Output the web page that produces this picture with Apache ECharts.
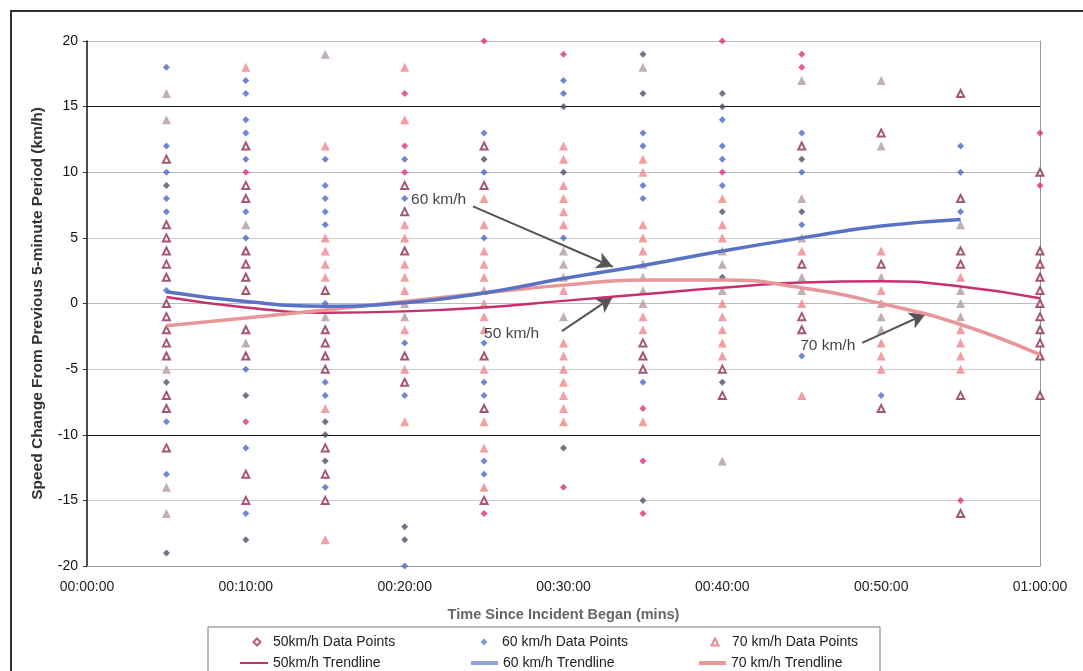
<!DOCTYPE html>
<html>
<head>
<meta charset="utf-8">
<script src="https://cdn.jsdelivr.net/npm/echarts@6/dist/echarts.min.js"></script>
<style>
html,body{margin:0;padding:0;background:#fff;}
#chart{width:1083px;height:671px;}
</style>
</head>
<body>
<div id="chart"></div>
<script>
// ---- Data (minutes since incident, speed change km/h) ----
const xTickLabels = ['00:00:00','00:10:00','00:20:00','00:30:00','00:40:00','00:50:00','01:00:00'];

// 50 km/h data points (diamonds)
const pts50 = [[10,10],[10,-9],[20,16],[20,12],[20,10],[25,20],[25,-16],[30,19],[30,-14],
  [35,-8],[35,-12],[35,-16],[40,20],[40,10],[45,19],[45,18],[55,-15],[60,13],[60,9]];

// 60 km/h data points (blue diamonds)
const pts60 = [[5,18],[5,12],[5,10],[5,8],[5,7],[5,1],[5,-9],[5,-13],
  [10,17],[10,16],[10,14],[10,13],[10,11],[10,7],[10,5],[10,-5],[10,-11],[10,-16],
  [15,11],[15,9],[15,8],[15,7],[15,6],[15,0],[15,-6],[15,-7],[15,-14],
  [20,11],[20,8],[20,-3],[20,-7],[20,-20],
  [25,13],[25,10],[25,5],[25,-3],[25,-6],[25,-7],[25,-12],[25,-13],
  [30,17],[30,16],[30,5],
  [35,13],[35,12],[35,9],[35,8],[35,-6],
  [40,14],[40,12],[40,11],[40,9],
  [45,13],[45,10],[45,6],[45,-4],
  [50,-7],[55,12],[55,10],[55,7]];
// 60 km/h points printed darker in the scan
const pts60dark = [[5,9],[5,-6],[5,-19],[10,-7],[10,-18],[15,-9],[15,-10],[15,-12],[20,-17],[20,-18],
  [25,11],[30,15],[30,10],[30,-11],[35,19],[35,16],[35,-15],[40,16],[40,15],[40,7],[40,2],[40,-6],[45,11],[45,7]];

// 70 km/h data points (triangles) - hollow dark ones
const pts70hollow = [[5,11],[5,6],[5,5],[5,4],[5,3],[5,2],[5,0],[5,-1],[5,-2],[5,-3],[5,-4],[5,-7],[5,-8],[5,-11],
  [10,12],[10,9],[10,8],[10,4],[10,3],[10,2],[10,1],[10,-2],[10,-4],[10,-13],[10,-15],
  [15,1],[15,-2],[15,-3],[15,-4],[15,-5],[15,-11],[15,-13],[15,-15],
  [20,9],[20,7],[20,4],[20,-4],[20,-6],
  [25,12],[25,9],[25,-4],[25,-8],[25,-15],
  [35,-3],[35,-4],[35,-5],[40,-5],[40,-7],
  [45,12],[45,3],[45,-1],[45,-2],
  [50,13],[50,3],[50,-8],
  [55,16],[55,8],[55,4],[55,3],[55,-7],[55,-16],
  [60,10],[60,4],[60,3],[60,2],[60,1],[60,0],[60,-1],[60,-2],[60,-3],[60,-4],[60,-7]];
// 70 km/h filled pink triangles
const pts70filled = [[10,18],[15,12],[15,5],[15,4],[15,3],[15,2],[15,-8],[15,-18],
  [20,18],[20,14],[20,6],[20,5],[20,3],[20,2],[20,1],[20,-2],[20,-5],[20,-9],
  [25,8],[25,6],[25,4],[25,3],[25,2],[25,1],[25,0],[25,-1],[25,-2],[25,-5],[25,-9],[25,-11],[25,-14],
  [30,12],[30,11],[30,9],[30,8],[30,7],[30,6],[30,1],[30,-3],[30,-4],[30,-5],[30,-6],[30,-7],[30,-8],[30,-9],
  [35,11],[35,10],[35,6],[35,5],[35,4],[35,-1],[35,-2],[35,-9],
  [40,8],[40,6],[40,5],[40,0],[40,-1],[40,-2],[40,-3],[40,-4],
  [45,4],[45,0],[45,-7],
  [50,4],[50,1],[50,-3],[50,-4],[50,-5],
  [55,2],[55,-2],[55,-3],[55,-4],[55,-5]];
// 70 km/h triangles printed greyish in the scan
const pts70grey = [[5,16],[5,14],[5,-5],[5,-14],[5,-16],[10,6],[10,-3],[15,19],[15,-1],[20,0],[20,-1],
  [30,4],[30,3],[30,2],[30,-1],[35,18],[35,3],[35,2],[35,1],[35,0],[40,4],[40,3],[40,1],[40,-12],
  [45,17],[45,8],[45,5],[45,2],[45,1],[50,17],[50,12],[50,2],[50,0],[50,-1],[50,-2],
  [55,6],[55,1],[55,0],[55,-1]];

// Trendlines
const trend50 = [[5,0.5],[10,-0.3],[15,-0.7],[20,-0.6],[25,-0.3],[30,0.2],[35,0.7],[40,1.2],[45,1.6],[50,1.7],[55,1.3],[60,0.4]];
const trend60 = [[5,0.9],[10,0.15],[15,-0.2],[20,0.05],[25,0.8],[30,1.9],[35,2.9],[40,4.0],[45,5.0],[50,5.9],[55,6.4]];
const trend70 = [[5,-1.7],[10,-1.1],[15,-0.5],[20,0.15],[25,0.8],[30,1.4],[35,1.8],[40,1.8],[45,1.2],[50,0.0],[55,-1.6],[60,-3.9]];

// Annotations: [x, y, text] and arrows [from, to]
const annotations = [[20.4,7.9,'60 km/h'],[25.0,-2.3,'50 km/h'],[44.9,-3.2,'70 km/h']];
const arrows = [[[24.3,7.4],[33.1,2.8]],[[29.9,-2.1],[33.1,0.5]],[[48.8,-3.0],[52.8,-0.8]]];

const FONT = '"Liberation Sans", Arial, sans-serif';
const chart = echarts.init(document.getElementById('chart'), null, {renderer:'canvas'});

const gridColors = ['#aaa','#ccc','#111','#ccc','#bbb','#ccc','#bbb','#111','#bbb'];

const C50 = '#c8306e', C50pt = '#e0307e', C60 = '#5a72c4', C60pt = '#4a68c8', C70 = '#e8969a';

function lg(name, left, top, w, h, icon, pad, style){
  const item = {name:name, icon:icon};
  if (style) item.itemStyle = style;
  return {orient:'horizontal', left:left, top:top, padding:0, itemWidth:w, itemHeight:h,
    selectedMode:false,
    textStyle:{fontFamily:FONT, fontSize:14, color:'#222', padding:[0,0,0,pad]},
    data:[item]};
}

const option = {
  animation:false,
  backgroundColor:'#fff',
  grid:{left:87,right:43,top:41,bottom:105,containLabel:false},
  xAxis:{
    type:'value',min:0,max:60,interval:10,
    name:'Time Since Incident Began (mins)',nameLocation:'middle',nameGap:41,
    nameTextStyle:{fontFamily:FONT,fontSize:14.5,fontWeight:'bold',color:'#666'},
    axisLine:{show:true,onZero:false,lineStyle:{color:'#999',width:1}},
    axisTick:{show:false},
    axisLabel:{fontFamily:FONT,fontSize:14,color:'#222',margin:14,
      formatter:v=>xTickLabels[Math.round(v/10)]},
    splitLine:{show:false}
  },
  yAxis:[{
    type:'value',min:-20,max:20,interval:5,
    name:'Speed Change From Previous 5-minute Period (km/h)',nameLocation:'middle',nameGap:41,
    nameTextStyle:{fontFamily:FONT,fontSize:15.5,fontWeight:'bold',color:'#333'},
    axisLine:{show:true,lineStyle:{color:'#111',width:1.5}},
    axisTick:{show:true,length:4,lineStyle:{color:'#333'}},
    axisLabel:{fontFamily:FONT,fontSize:14,color:'#111',margin:9},
    splitLine:{show:true,lineStyle:{color:gridColors,width:1.2}}
  },{
    type:'value',min:-20,max:20,interval:5,position:'right',
    axisLine:{show:true,lineStyle:{color:'#999',width:1}},
    axisTick:{show:false},axisLabel:{show:false},splitLine:{show:false}
  }],
  legend:[
    lg('50km/h Data Points',252.5,635,7,7,'emptyDiamond',7.5,{color:'#b0306a',borderColor:'#b0306a',borderWidth:1.2}),
    lg('60 km/h Data Points',480.5,635,7,7,'diamond',9.5,{color:'#6a7fc8'}),
    lg('70 km/h Data Points',710.5,635,7,7,'emptyTriangle',8.5,{color:'#e0707a',borderColor:'#e0707a',borderWidth:1.2}),
    lg('50km/h Trendline',240,656,28,2,'rect',0),
    lg('60 km/h Trendline',471,656,27,4,'rect',0,{color:'#90a4dc'}),
    lg('70 km/h Trendline',699,656,27,4,'rect',0)
  ],
  graphic:[
    {type:'rect',silent:true,z:-10,shape:{x:11,y:11,width:1100,height:700},
     style:{fill:null,stroke:'#333',lineWidth:2}},
    {type:'rect',silent:true,z:-5,shape:{x:208,y:627,width:672,height:60},
     style:{fill:'#fff',stroke:'#777',lineWidth:1}}
  ],
  series:[
    {name:'70 km/h Data Points',type:'scatter',data:pts70hollow,symbol:'emptyTriangle',symbolSize:7,
     itemStyle:{color:'#8e2a55',borderWidth:1.3},z:3},
    {name:'70 km/h Data Points',type:'scatter',data:pts70filled,symbol:'triangle',symbolSize:9,
     itemStyle:{color:'#f0868c'},z:3},
    {name:'70 km/h Data Points',type:'scatter',data:pts70grey,symbol:'triangle',symbolSize:9,
     itemStyle:{color:'#b49a9e'},z:3},
    {name:'60 km/h Data Points',type:'scatter',data:pts60,symbol:'diamond',symbolSize:7,
     itemStyle:{color:C60pt},z:4},
    {name:'60 km/h Data Points',type:'scatter',data:pts60dark,symbol:'diamond',symbolSize:7,
     itemStyle:{color:'#4d5068'},z:4},
    {name:'50km/h Data Points',type:'scatter',data:pts50,symbol:'diamond',symbolSize:7,
     itemStyle:{color:C50pt},z:4},
    {name:'50km/h Trendline',type:'line',data:trend50,smooth:0.5,symbol:'none',
     itemStyle:{color:C50},lineStyle:{color:C50,width:2.5},z:6},
    {name:'70 km/h Trendline',type:'line',data:trend70,smooth:0.5,symbol:'none',
     itemStyle:{color:C70},lineStyle:{color:C70,width:3.5},z:6},
    {name:'60 km/h Trendline',type:'line',data:trend60,smooth:0.5,symbol:'none',
     itemStyle:{color:C60},lineStyle:{color:C60,width:3.5},z:7,
     markLine:{silent:true,symbol:['none','arrow'],symbolSize:[13,16],animation:false,
       lineStyle:{color:'#555',width:2,type:'solid'},label:{show:false},
       data:arrows.map(a=>[{coord:a[0]},{coord:a[1]}])}},
    {name:'annot',type:'scatter',data:annotations,symbolSize:0,silent:true,z:8,
     label:{show:true,position:'right',distance:0,fontFamily:FONT,fontSize:15.5,color:'#111',
       formatter:p=>p.data[2]}}
  ]
};
chart.setOption(option);
</script>
</body>
</html>
